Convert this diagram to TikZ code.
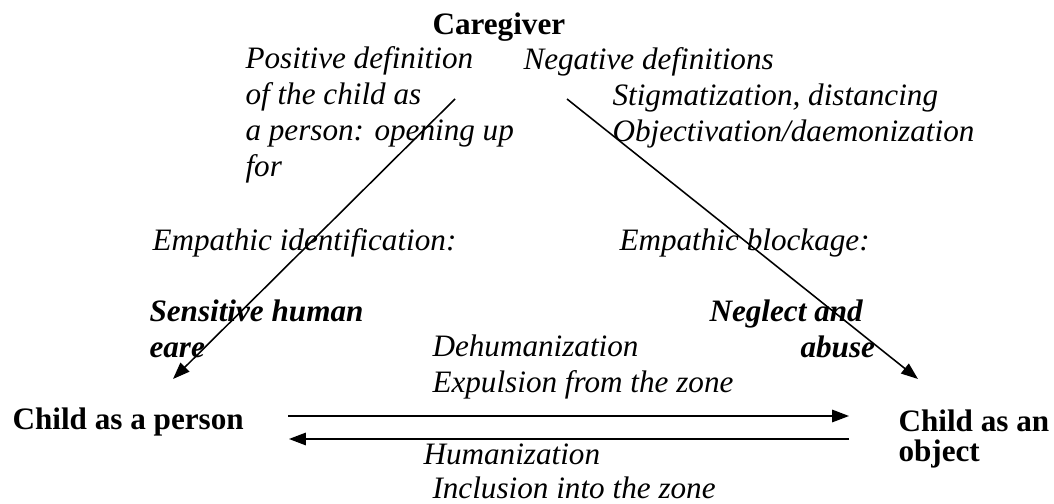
\documentclass[tikz,border=0pt]{standalone}
\usepackage{fontspec}
\setmainfont{Liberation Serif}
\usepackage{tikz}
\usetikzlibrary{arrows.meta, positioning}

\begin{document}
\begin{tikzpicture}[
  x=0.385pt, y=-0.385pt,
  lbl/.style  = {anchor=base west, inner sep=0pt, align=left,
                 font=\fontsize{12}{13.86}\selectfont\itshape},
  head/.style = {anchor=base west, inner sep=0pt, align=left,
                 font=\fontsize{12}{11.6}\selectfont\bfseries},
  key/.style  = {lbl, font=\fontsize{12}{13.86}\selectfont\bfseries\itshape},
  arr/.style  = {-{Triangle[length=6.5pt, width=4.8pt]}, line width=0.6pt}
]
\useasboundingbox (0,0) rectangle (1054,504);

% Nodes (multi-line ones sit on their last baseline)
\node[head] (care)   at (432,35)  {Caregiver};
\node[head] (person) at (12,430)  {Child as a person};
\node[head] (object) at (898,462) {Child as an\\object};

% Annotation texts
\node[lbl] (posdef) at (245,177) {Positive definition\\of the child as\\a person: opening up\\for};
\node[lbl] (negdef) at (523,70)  {Negative definitions};
\node[lbl] (stigma) at (612,142) {Stigmatization, distancing\\Objectivation/daemonization};
\node[lbl] (empid)  at (152,251) {Empathic identification:};
\node[lbl] (empbl)  at (619,251) {Empathic blockage:};
\node[key] (sens)   at (149,358) {Sensitive human\\eare};
\node[key] (negl)   at (709,322) {Neglect and};
\node[key] (abuse)  at (800,358) {abuse};
\node[lbl] (dehum)  at (432,393) {Dehumanization\\Expulsion from the zone};
\node[lbl] (hum)    at (423,465) {Humanization};
\node[lbl] (incl)   at (432,499) {Inclusion into the zone};

% Arrow ends
\coordinate (careL)   at (455,99);
\coordinate (careR)   at (567,99);
\coordinate (personT) at (173,379);
\coordinate (objectT) at (918,379);
\coordinate (personU) at (288,416);
\coordinate (objectU) at (849,416);
\coordinate (personD) at (289,439);
\coordinate (objectD) at (849,439);

% Arrows
\draw[arr] (careL) -- (personT);
\draw[arr] (careR) -- (objectT);
\draw[arr] (personU) -- (objectU);
\draw[arr] (objectD) -- (personD);
\end{tikzpicture}
\end{document}
